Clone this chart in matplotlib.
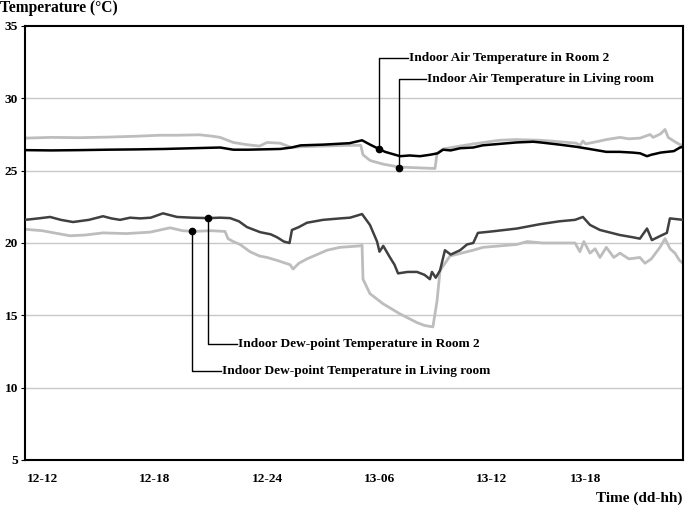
import matplotlib
matplotlib.use("Agg")
import matplotlib.pyplot as plt

plt.rcParams['font.family'] = ['Liberation Serif', 'DejaVu Serif']
plt.rcParams['font.weight'] = 'bold'

# ---- data (hours since 12-00) ----
air_room2_t = [11.09, 12.5, 14, 15.5, 17, 18.5, 20, 21.5, 22.2, 23, 24.7, 25.3, 25.8, 27, 28.4, 29.07,
               29.5, 29.97, 30.3, 30.7, 31.1, 31.6, 32.16, 32.7, 33.1, 33.39, 33.8, 34.3, 35, 35.5, 36.4,
               37.3, 38.2, 38.6, 39.6, 40.5, 41.2, 42.1, 42.8, 43.5, 43.9, 44.27, 44.5, 45, 45.33, 45.7,
               46.03, 46.19]
air_room2_v = [26.42, 26.40, 26.42, 26.45, 26.47, 26.5, 26.55, 26.6, 26.45, 26.45, 26.5, 26.6, 26.75,
               26.8, 26.9, 27.1, 26.8, 26.5, 26.3, 26.15, 26.0, 26.05, 26.0, 26.1, 26.2, 26.45, 26.4,
               26.55, 26.6, 26.75, 26.85, 26.95, 27.0, 26.95, 26.8, 26.65, 26.5, 26.3, 26.3, 26.25,
               26.2, 26.0, 26.1, 26.25, 26.3, 26.35, 26.6, 26.65]

air_living_t = [11.09, 12.5, 14, 15.5, 17, 18.3, 19.2, 20.4, 21.1, 21.5, 22.2, 22.9, 23.6, 24.0, 24.7,
                25.3, 25.8, 27, 28.4, 29.0, 29.12, 29.5, 30.2, 31.04, 32, 32.96, 33.07, 33.4, 34.3, 35,
                36.4, 37.3, 38.6, 39.6, 40.5, 40.7, 40.85, 41.0, 41.76, 42.1, 42.83, 43.3, 43.9, 44.43,
                44.6, 45.0, 45.23, 45.4, 45.76, 46.03, 46.19]
air_living_v = [27.25, 27.3, 27.28, 27.32, 27.38, 27.45, 27.45, 27.48, 27.38, 27.3, 26.95, 26.8, 26.7,
                26.95, 26.9, 26.6, 26.65, 26.7, 26.75, 26.75, 26.1, 25.7, 25.45, 25.25, 25.2, 25.15,
                26.2, 26.5, 26.7, 26.85, 27.1, 27.15, 27.1, 27.0, 26.9, 26.75, 27.05, 26.85, 27.05,
                27.15, 27.3, 27.2, 27.25, 27.5, 27.3, 27.55, 27.85, 27.3, 27.0, 26.8, 26.75]

dew_room2_t = [11.09, 11.8, 12.43, 13.0, 13.65, 14.5, 15.25, 15.7, 16.16, 16.7, 17.23, 17.8, 18.45,
               19.2, 20.0, 20.85, 21.5, 22.03, 22.5, 22.93, 23.63, 24.2, 24.53, 24.9, 25.2, 25.33,
               25.7, 26.13, 26.99, 27.9, 28.43, 29.07, 29.49, 29.87, 30.0, 30.2, 30.56, 30.8, 30.99,
               31.5, 32.0, 32.4, 32.69, 32.8, 33.0, 33.23, 33.49, 33.8, 34.3, 34.67, 35.0, 35.25, 36.0,
               37.33, 38.56, 39.6, 40.43, 40.85, 41.23, 41.76, 42.83, 43.5, 43.89, 44.27, 44.53, 45.0,
               45.33, 45.49, 46.19]
dew_room2_v = [21.6, 21.7, 21.8, 21.6, 21.45, 21.6, 21.85, 21.7, 21.6, 21.75, 21.7, 21.75, 22.05,
               21.8, 21.75, 21.72, 21.75, 21.72, 21.5, 21.1, 20.75, 20.6, 20.4, 20.1, 20.0, 20.9,
               21.1, 21.4, 21.6, 21.7, 21.75, 22.0, 21.25, 20.1, 19.4, 19.8, 19.0, 18.5, 17.9,
               18.0, 18.0, 17.8, 17.5, 18.0, 17.6, 18.1, 19.5, 19.2, 19.5, 19.9, 20.0, 20.7, 20.8,
               21.0, 21.3, 21.5, 21.6, 21.8, 21.25, 20.9, 20.55, 20.4, 20.3, 21.0, 20.2, 20.5,
               20.7, 21.7, 21.6]

dew_living_t = [11.09, 12, 13.49, 14.3, 15.25, 16.5, 17.76, 18.83, 19.5, 20.05, 21.0, 21.76, 21.92,
                22.2, 22.56, 23.09, 23.6, 24.0, 24.53, 25.23, 25.39, 25.7, 26.13, 27.2, 27.89, 28.96,
                29.07, 29.12, 29.49, 30.19, 31.09, 32.0, 32.4, 32.85, 33.07, 33.23, 33.76, 34.99,
                35.52, 37.33, 37.87, 38.72, 40.43, 40.69, 40.9, 41.23, 41.5, 41.76, 42.1, 42.5, 42.83,
                43.3, 43.89, 44.16, 44.5, 44.96, 45.23, 45.5, 45.76, 46.0, 46.19]
dew_living_v = [20.95, 20.85, 20.5, 20.55, 20.7, 20.65, 20.75, 21.05, 20.85, 20.8, 20.85, 20.8, 20.3,
                20.1, 19.9, 19.4, 19.1, 19.0, 18.8, 18.5, 18.2, 18.6, 18.9, 19.5, 19.7, 19.8,
                19.85, 17.5, 16.5, 15.8, 15.1, 14.5, 14.3, 14.2, 16.0, 18.1, 19.1, 19.5,
                19.7, 19.9, 20.1, 20.0, 20.0, 19.4, 20.1, 19.3, 19.6, 19.0, 19.7, 19.0, 19.3,
                18.9, 19.0, 18.6, 18.9, 19.7, 20.3, 19.6, 19.3, 18.8, 18.6]

tick_hours = [12, 18, 24, 30, 36, 41]
tick_labels = ['12-12', '12-18', '12-24', '13-06', '13-12', '13-18']
y_ticks = [5, 10, 15, 20, 25, 30, 35]

# annotations: (label, point t, point v, elbow y, text x)
annots = [
    ('Indoor Air Temperature in Room 2', 29.97, 26.5, 32.78, 31.5),
    ('Indoor Air Temperature in Living room', 31.04, 25.2, 31.33, 32.5),
    ('Indoor Dew-point Temperature in Room 2', 20.85, 21.72, 13.03, 22.4),
    ('Indoor Dew-point Temperature in Living room', 20.0, 20.8, 11.16, 21.55),
]

fig = plt.figure(figsize=(6.85, 5.07), dpi=100)
ax = fig.add_axes([25/685, 1-460/507, (683-25)/685, (460-26)/507])

for y in [10, 15, 20, 25, 30]:
    ax.axhline(y, color='#c8c8c8', lw=1.0, zorder=0)

ax.plot(air_living_t, air_living_v, color='#bdbdbd', lw=2.0, zorder=2)
ax.plot(dew_living_t, dew_living_v, color='#bdbdbd', lw=2.0, zorder=2)
ax.plot(dew_room2_t, dew_room2_v, color='#404040', lw=1.8, zorder=3)
ax.plot(air_room2_t, air_room2_v, color='#000000', lw=1.8, zorder=4)

for label, pt, pv, ey, tx in annots:
    ax.plot([pt, pt, tx], [pv, ey, ey], color='black', lw=1.0, zorder=5)
    ax.plot([pt], [pv], 'o', color='black', ms=4.5, zorder=6)
    ax.text(tx + 0.05, ey, label, fontsize=9.6, fontweight='bold', va='center', ha='left')

ax.set_xlim(11.09, 46.19)
ax.set_ylim(5, 35)
ax.set_yticks(y_ticks)
ax.set_yticklabels([str(v) for v in y_ticks])
ax.set_xticks(tick_hours)
ax.set_xticklabels(tick_labels)
ax.tick_params(axis='x', length=0, pad=9, labelsize=9.6)
ax.tick_params(axis='y', length=3, width=0.8, pad=2, labelsize=9.6)
for lab in ax.get_xticklabels() + ax.get_yticklabels():
    lab.set_fontweight('bold')
for s in ax.spines.values():
    s.set_linewidth(1.5)
    s.set_color('black')

fig.text(0.0, 1-8/507, 'Temperature (°C)', fontsize=11.2, fontweight='bold', va='center', ha='left')
fig.text(682/685, 1-498/507, 'Time (dd-hh)', fontsize=11, fontweight='bold', va='center', ha='right')

fig.savefig('out.png', dpi=100)
